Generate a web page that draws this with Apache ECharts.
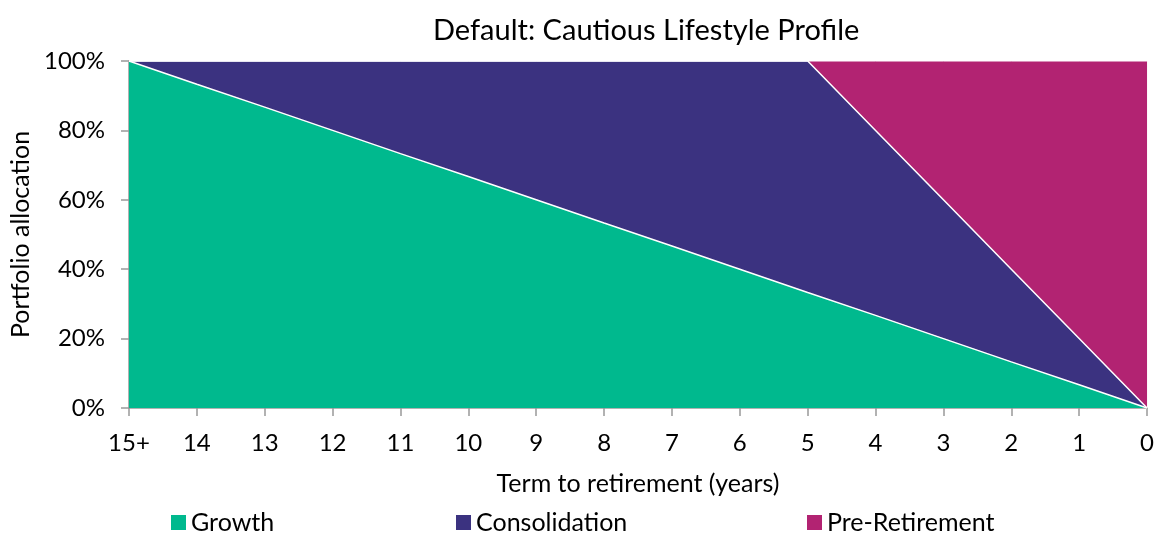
<!DOCTYPE html>
<html>
<head>
<meta charset="utf-8">
<script src="https://cdn.jsdelivr.net/npm/echarts@6/dist/echarts.min.js"></script>
<style>
  html, body { margin: 0; padding: 0; background: #fff; }
  #main { width: 1157px; height: 535px; }
</style>
</head>
<body>
<div id="main"></div>
<script>
// 横轴：距退休年数
var years = ['15+', '14', '13', '12', '11', '10', '9', '8', '7', '6', '5', '4', '3', '2', '1', '0'];
// 各资产占比（%）
var growth = [100, 93.3, 86.7, 80, 73.3, 66.7, 60, 53.3, 46.7, 40, 33.3, 26.7, 20, 13.3, 6.7, 0];
var consolidation = [0, 6.7, 13.3, 20, 26.7, 33.3, 40, 46.7, 53.3, 60, 66.7, 53.3, 40, 26.7, 13.3, 0];
var preRetirement = [0, 0, 0, 0, 0, 0, 0, 0, 0, 0, 0, 20, 40, 60, 80, 100];

var font = 'Lato, "Open Sans", sans-serif';
var myChart = echarts.init(document.getElementById('main'));

function legendAt(name, left) {
  return {
    data: [name],
    left: left,
    top: 505,
    icon: 'rect',
    itemWidth: 15,
    itemHeight: 15,
    itemGap: 6,
    textStyle: { color: '#000', fontSize: 25, fontFamily: font }
  };
}

var option = {
  animation: false,
  color: ['#00B98E', '#3B3280', '#B22372'],
  // 标题居中于绘图区
  title: {
    text: 'Default: Cautious Lifestyle Profile',
    left: 428,
    top: 11,
    textStyle: { color: '#000', fontSize: 29, fontWeight: 'normal', fontFamily: font }
  },
  legend: [
    legendAt('Growth', 166),
    legendAt('Consolidation', 451),
    legendAt('Pre-Retirement', 802)
  ],
  grid: { left: 129, right: 8, top: 61, bottom: 127 },
  xAxis: {
    type: 'category',
    data: years,
    boundaryGap: false,
    name: 'Term to retirement (years)',
    nameLocation: 'middle',
    nameGap: 63,
    nameTextStyle: { color: '#000', fontSize: 25, fontFamily: font },
    axisLine: { lineStyle: { color: '#999', width: 1.5 } },
    axisTick: { show: true, length: 8, alignWithLabel: true, lineStyle: { color: '#999', width: 1.5 } },
    axisLabel: { color: '#000', fontSize: 24, fontFamily: font, margin: 23, interval: 0 },
    splitLine: { show: false }
  },
  yAxis: {
    type: 'value',
    min: 0,
    max: 100,
    interval: 20,
    name: 'Portfolio allocation',
    nameLocation: 'middle',
    nameGap: 94,
    nameTextStyle: { color: '#000', fontSize: 25, fontFamily: font },
    axisLine: { show: true, lineStyle: { color: '#999', width: 1.5 } },
    axisTick: { show: true, length: 8, lineStyle: { color: '#999', width: 1.5 } },
    axisLabel: { color: '#000', fontSize: 24, fontFamily: font, margin: 24, formatter: '{value}%' },
    splitLine: { show: false }
  },
  series: [
    {
      name: 'Growth',
      type: 'line',
      stack: 'total',
      data: growth,
      showSymbol: false,
      lineStyle: { color: '#fff', width: 1.5 },
      areaStyle: { opacity: 1 }
    },
    {
      name: 'Consolidation',
      type: 'line',
      stack: 'total',
      data: consolidation,
      showSymbol: false,
      lineStyle: { color: '#fff', width: 1.5 },
      areaStyle: { opacity: 1 }
    },
    {
      name: 'Pre-Retirement',
      type: 'line',
      stack: 'total',
      data: preRetirement,
      showSymbol: false,
      lineStyle: { color: '#fff', width: 1 },
      areaStyle: { opacity: 1 }
    }
  ]
};

myChart.setOption(option);
</script>
</body>
</html>
